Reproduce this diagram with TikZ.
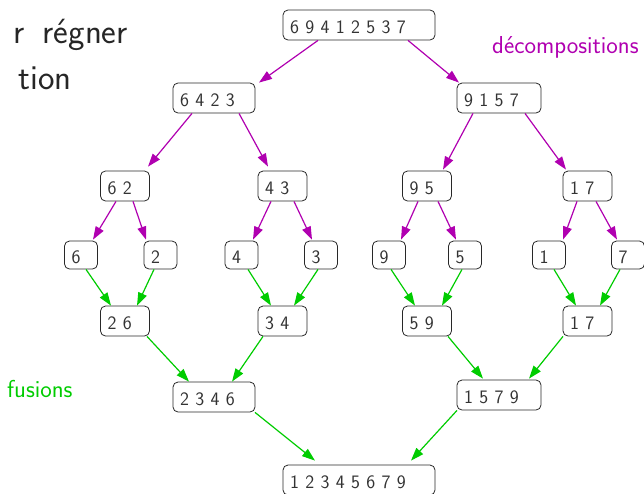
\documentclass[tikz,border=0pt]{standalone}
\usetikzlibrary{arrows.meta}
\definecolor{decomp}{RGB}{176,0,176}
\definecolor{fus}{RGB}{0,204,0}
\definecolor{boxline}{RGB}{40,40,40}
\begin{document}
\begin{tikzpicture}[x=1pt,y=-1pt,
  cell/.style={draw=boxline, line width=0.8pt, rounded corners=5pt,
    minimum height=30pt, inner xsep=7pt, inner ysep=0pt, align=left,
    text width=#1, text height=16.5pt, text depth=0pt,
    font=\sffamily\fontsize{19}{21}\selectfont, text=black!80},
  cell/.default=20pt,
  leaf/.style={cell=19pt, minimum height=28pt},
  darr/.style={draw=decomp, line width=1.2pt, -{Triangle[length=13pt,width=9pt]}},
  farr/.style={draw=fus, line width=1.2pt, -{Triangle[length=13pt,width=9pt]}},
  lab/.style={font=\sffamily\fontsize{24.5}{28}\selectfont, inner sep=0pt},
  big/.style={font=\sffamily\fontsize{35}{40}\selectfont, inner sep=0pt, text=black!85}]
\useasboundingbox (0,0) rectangle (644,493);
\clip (0,0) rectangle (644,493);

% title fragments
\node[big, anchor=base east] (t1) at (128,43) {r\hspace{18pt}régner};
\node[big, anchor=base east] (t2) at (72,89) {tion};
\node[lab, anchor=base west, text=decomp] (ld) at (492,53) {décompositions};
\node[lab, anchor=base west, text=fus] (lf) at (7,397) {fusions};

% decomposition tree
\node[cell=138pt] (n1) at (359,25) {6 9 4 1 2 5 3 7};
\node[cell=68pt] (n2) at (214,98) {6 4 2 3};
\node[cell=70pt] (n3) at (499,98) {9 1 5 7};
\node[cell=35pt] (n4) at (125,186) {6 2};
\node[cell=35pt] (n5) at (282.5,186) {4 3};
\node[cell=35pt] (n6) at (427,186) {9 5};
\node[cell=35pt] (n7) at (587.5,186) {1 7};
\node[leaf] (l6) at (81,255) {6};
\node[leaf] (l2) at (160.5,255) {2};
\node[leaf] (l4) at (241.5,255) {4};
\node[leaf] (l3) at (321,255) {3};
\node[leaf] (l9) at (389,255) {9};
\node[leaf] (l5) at (465,255) {5};
\node[leaf] (l1) at (549,255) {1};
\node[leaf] (l7) at (628,255) {7};
% fusion tree
\node[cell=35pt] (m26) at (125,321) {2 6};
\node[cell=35pt] (m34) at (282.5,321) {3 4};
\node[cell=35pt] (m59) at (427,321) {5 9};
\node[cell=35pt] (m17) at (587.5,321) {1 7};
\node[cell=68pt] (m2346) at (214,397) {2 3 4 6};
\node[cell=70pt] (m1579) at (499,395) {1 5 7 9};
\node[cell=138pt] (mall) at (359,480) {1 2 3 4 5 6 7 9};

% decomposition arrows
\draw[darr] ([xshift=-41pt]n1.south) -- ([xshift=45pt]n2.north);
\draw[darr] ([xshift=49pt]n1.south) -- ([xshift=-40pt]n3.north);
\draw[darr] ([xshift=-22pt]n2.south) -- ([xshift=23pt,yshift=4pt]n4.north);
\draw[darr] ([xshift=25pt]n2.south) -- ([xshift=-14.5pt,yshift=4pt]n5.north);
\draw[darr] ([xshift=-26pt]n3.south) -- ([xshift=16pt,yshift=1pt]n6.north);
\draw[darr] ([xshift=26pt]n3.south) -- ([xshift=-21.5pt,yshift=1pt]n7.north);
\draw[darr] ([xshift=-9pt]n4.south) -- ([xshift=12pt,yshift=1pt]l6.north);
\draw[darr] ([xshift=8pt]n4.south) -- ([xshift=-14.5pt,yshift=1pt]l2.north);
\draw[darr] ([xshift=-11.5pt]n5.south) -- ([xshift=11.5pt,yshift=1pt]l4.north);
\draw[darr] ([xshift=11.5pt]n5.south) -- ([xshift=-9pt,yshift=1pt]l3.north);
\draw[darr] ([xshift=-9pt]n6.south) -- ([xshift=12pt,yshift=1pt]l9.north);
\draw[darr] ([xshift=11pt]n6.south) -- ([xshift=-9pt,yshift=1pt]l5.north);
\draw[darr] ([xshift=-10.5pt]n7.south) -- ([xshift=14pt,yshift=1pt]l1.north);
\draw[darr] ([xshift=8.5pt]n7.south) -- ([xshift=-11pt,yshift=1pt]l7.north);

% fusion arrows
\draw[farr] ([xshift=5pt]l6.south) -- ([xshift=-14pt]m26.north);
\draw[farr] ([xshift=-6.5pt]l2.south) -- ([xshift=12pt]m26.north);
\draw[farr] ([xshift=6.5pt]l4.south) -- ([xshift=-11.5pt]m34.north);
\draw[farr] ([xshift=-3pt]l3.south) -- ([xshift=11.5pt]m34.north);
\draw[farr] ([xshift=2pt]l9.south) -- ([xshift=-12pt]m59.north);
\draw[farr] ([xshift=-3pt]l5.south) -- ([xshift=15pt]m59.north);
\draw[farr] ([xshift=5pt]l1.south) -- ([xshift=-11.5pt]m17.north);
\draw[farr] ([xshift=-8pt]l7.south) -- ([xshift=12.5pt]m17.north);
\draw[farr] ([xshift=22pt]m26.south) -- ([xshift=-25pt]m2346.north);
\draw[farr] ([xshift=-19.5pt]m34.south) -- ([xshift=18pt]m2346.north);
\draw[farr] ([xshift=21pt]m59.south) -- ([xshift=-16pt,yshift=1pt]m1579.north);
\draw[farr] ([xshift=-24.5pt]m17.south) -- ([xshift=30pt,yshift=1pt]m1579.north);
\draw[farr] ([xshift=41pt]m2346.south) -- ([xshift=-44pt,yshift=4pt]mall.north);
\draw[farr] ([xshift=-42pt]m1579.south) -- ([xshift=52pt,yshift=4pt]mall.north);
\end{tikzpicture}
\end{document}
